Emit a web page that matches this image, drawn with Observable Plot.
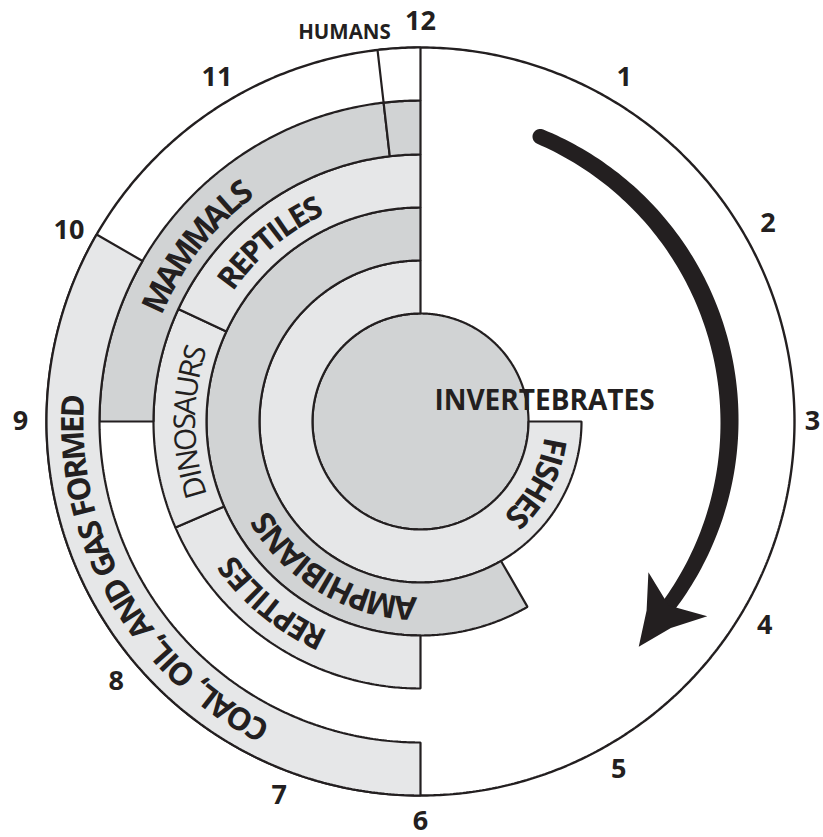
<!DOCTYPE html>
<html>
<head>
<meta charset="utf-8">
<script src="https://cdn.jsdelivr.net/npm/d3@7"></script>
<script src="https://cdn.jsdelivr.net/npm/@observablehq/plot@0.6"></script>
<style>
  html, body { margin: 0; padding: 0; background: #fff; }
  #chart svg { display: block; }
</style>
</head>
<body>
<div id="chart"></div>
<script>
// ---------------- DATA ----------------
// Bands of the "geologic clock": name, ring (0 = centre disc), start and end hour on the clock
const bandNames  = ["INVERTEBRATES", "FISHES", "AMPHIBIANS", "REPTILES", "DINOSAURS", "REPTILES", "MAMMALS", "HUMANS", "HUMANS", "COAL, OIL, AND GAS FORMED"];
const bandRing   = [0, 1, 2, 3, 3, 3, 4, 4, 5, 5];
const bandStart  = [0, 3, 5, 6, 8.22, 9.83, 9, 11.78, 11.78, 6];
const bandEnd    = [12, 12, 12, 8.22, 9.83, 12, 11.78, 12, 12, 10];
const bandShade  = ["dark", "light", "dark", "light", "light", "light", "dark", "dark", "none", "light"];
// Clock hour labels and the hour at which each sits on the dial
const hourLabels = ["1", "2", "3", "4", "5", "6", "7", "8", "9", "10", "11", "12"];
const hourLabelAt = [1.02, 2.01, 3, 4.02, 5.01, 6, 6.69, 7.65, 9, 9.95, 10.98, 12];
// Arrow of time (clock hours)
const arrowFrom = 0.76, arrowTo = 4.2;

// ---------------- LAYOUT ----------------
const W = 823, H = 837, CX = 420, CY = 421;
const ringR = [0, 108, 161, 214, 267, 321, 374];
const shadeColor = { dark: "#d1d3d4", light: "#e6e7e8", none: "#ffffff" };
const INK = "#231f20";
const FONT = "Open Sans";

const rad = h => h * Math.PI / 6;
const pt = (r, h) => ({ x: r * Math.sin(rad(h)), y: -r * Math.cos(rad(h)) });
function arcPts(r, h0, h1) {
  const n = Math.max(2, Math.ceil(Math.abs(h1 - h0) * 60));
  const out = [];
  for (let i = 0; i <= n; i++) out.push(pt(r, h0 + (h1 - h0) * i / n));
  return out;
}
function sector(rIn, rOut, h0, h1) {
  const full = Math.abs(h1 - h0) >= 12;
  let pts = arcPts(rOut, h0, h1);
  if (full) pts.pop();
  if (rIn > 0) pts = pts.concat(arcPts(rIn, h1, h0));
  return pts;
}

// curved labels: centre of first and last glyph (in degrees clockwise from 12), radius, weight
const curvedLayout = [
  { i: 1, a0: 100.9, a1: 134.7, r: 135, weight: "bold" },
  { i: 2, a0: 184.7, a1: 237.0, r: 186, weight: "bold" },
  { i: 3, a0: 206.3, a1: 232.5, r: 239, weight: "bold" },
  { i: 4, a0: 253.8, a1: 286.8, r: 235, weight: "normal" },
  { i: 5, a0: 307.2, a1: 333.1, r: 238, weight: "bold" },
  { i: 6, a0: 295.3, a1: 322.0, r: 290, weight: "bold" },
  { i: 9, a0: 208.0, a1: 272.6, r: 347, weight: "bold" }
];
const GLYPH_GROW = 1.1; // Myriad-like glyphs are taller for the same advance
const ctx = document.createElement("canvas").getContext("2d");
function curvedText(text, a0, a1, r, weight) {
  ctx.font = `${weight} 100px "${FONT}"`;
  const chars = [...text];
  const ws = chars.map(c => ctx.measureText(c).width);
  let cum = 0;
  const centres = ws.map(w => { const c = cum + w / 2; cum += w; return c; });
  const span = centres[centres.length - 1] - centres[0];
  const arc = (a1 - a0) * Math.PI / 180 * r;
  const fs = 100 * arc / span * GLYPH_GROW;
  const glyphs = chars.map((ch, k) => {
    const a = a0 + (centres[k] - centres[0]) / span * (a1 - a0);
    const p = pt(r, a / 30);
    return { ch, x: p.x, y: p.y, rot: a };
  }).filter(g => g.ch !== " ");
  return { fs, glyphs };
}

// arrow geometry
function arrowShape() {
  const R = 309;
  const n = 120;
  const h0 = arrowFrom, h1 = arrowTo + 0.07;
  const widthAt = t => 15.5 + 3.5 * Math.sin(Math.PI * t) - 1 * t;
  const outer = [], inner = [];
  for (let i = 0; i <= n; i++) {
    const t = i / n, h = h0 + (h1 - h0) * t, w = widthAt(t);
    outer.push(pt(R + w / 2, h));
    inner.push(pt(R - w / 2, h));
  }
  // rounded start cap
  const th = rad(h0), c = pt(R, h0), w0 = widthAt(0);
  const d = { x: Math.cos(th), y: Math.sin(th) }, nn = { x: Math.sin(th), y: -Math.cos(th) };
  const cap = [];
  for (let k = 0; k <= 24; k++) {
    const phi = -Math.PI / 2 + Math.PI * k / 24;
    cap.push({ x: c.x + (w0 / 2) * (Math.sin(phi) * nn.x - Math.cos(phi) * d.x),
               y: c.y + (w0 / 2) * (Math.sin(phi) * nn.y - Math.cos(phi) * d.y) });
  }
  const shaft = cap.concat(outer, inner.reverse());
  // head, in local frame (along tangent, along outward normal)
  const te = rad(arrowTo), P = pt(R, arrowTo);
  const de = { x: Math.cos(te), y: Math.sin(te) }, ne = { x: Math.sin(te), y: -Math.cos(te) };
  const loc = ([a, b]) => ({ x: P.x + a * de.x + b * ne.x, y: P.y + a * de.y + b * ne.y });
  const head = [[54, 0], [20, -15], [-12, -36], [3, 0], [-11, 37.5], [20, 15]].map(loc);
  return { shaft, head };
}

// ---------------- MARKS ----------------
const lineStyle = { x: "x", y: "y", curve: "linear-closed", stroke: INK, strokeWidth: 2.2, strokeLinejoin: "miter" };
const marks = [];
// dial
marks.push(Plot.line(sector(0, ringR[6], 0, 12), { ...lineStyle, fill: "#ffffff", strokeWidth: 2.4 }));
// bands
bandNames.forEach((name, i) => {
  const ring = bandRing[i];
  const rIn = ring === 0 ? 0 : ringR[ring];
  const rOut = ringR[ring + 1];
  marks.push(Plot.line(sector(rIn, rOut, bandStart[i], bandEnd[i]), { ...lineStyle, fill: shadeColor[bandShade[i]] }));
});
// arrow
const arrow = arrowShape();
marks.push(Plot.line(arrow.shaft, { x: "x", y: "y", curve: "linear-closed", fill: INK, stroke: "none" }));
marks.push(Plot.line(arrow.head, { x: "x", y: "y", curve: "linear-closed", fill: INK, stroke: "none" }));
// curved labels
curvedLayout.forEach(L => {
  const { fs, glyphs } = curvedText(bandNames[L.i], L.a0, L.a1, L.r, L.weight);
  marks.push(Plot.text(glyphs, {
    x: "x", y: "y", text: "ch", rotate: "rot", fontSize: fs, fontWeight: L.weight,
    fontFamily: FONT, fill: INK, textAnchor: "middle", lineAnchor: "middle"
  }));
});
// straight labels
marks.push(Plot.text([{ t: bandNames[0], x: 124, y: -20.5 }], {
  x: "x", y: "y", text: "t", fontSize: 28, fontWeight: "bold", fontFamily: FONT, fill: INK,
  textAnchor: "middle", lineAnchor: "middle"
}));
marks.push(Plot.text([{ t: bandNames[7], x: -76, y: -389 }], {
  x: "x", y: "y", text: "t", fontSize: 20.5, fontWeight: "bold", fontFamily: FONT, fill: INK,
  textAnchor: "middle", lineAnchor: "middle"
}));
// clock hours (kept just inside the right edge)
marks.push(Plot.text(hourLabels.map((t, k) => {
  const p = pt(400, hourLabelAt[k]);
  return { t, x: Math.min(p.x, W - CX - 11), y: p.y };
}), {
  x: "x", y: "y", text: "t", fontSize: 27, fontWeight: "bold", fontFamily: FONT, fill: INK,
  textAnchor: "middle", lineAnchor: "middle"
}));

const chart = Plot.plot({
  width: W, height: H, margin: 0,
  x: { domain: [-CX, W - CX], range: [0, W], axis: null },
  y: { domain: [-CY, H - CY], range: [0, H], axis: null },
  style: { background: "#ffffff" },
  marks
});
document.getElementById("chart").appendChild(chart);
</script>
</body>
</html>
